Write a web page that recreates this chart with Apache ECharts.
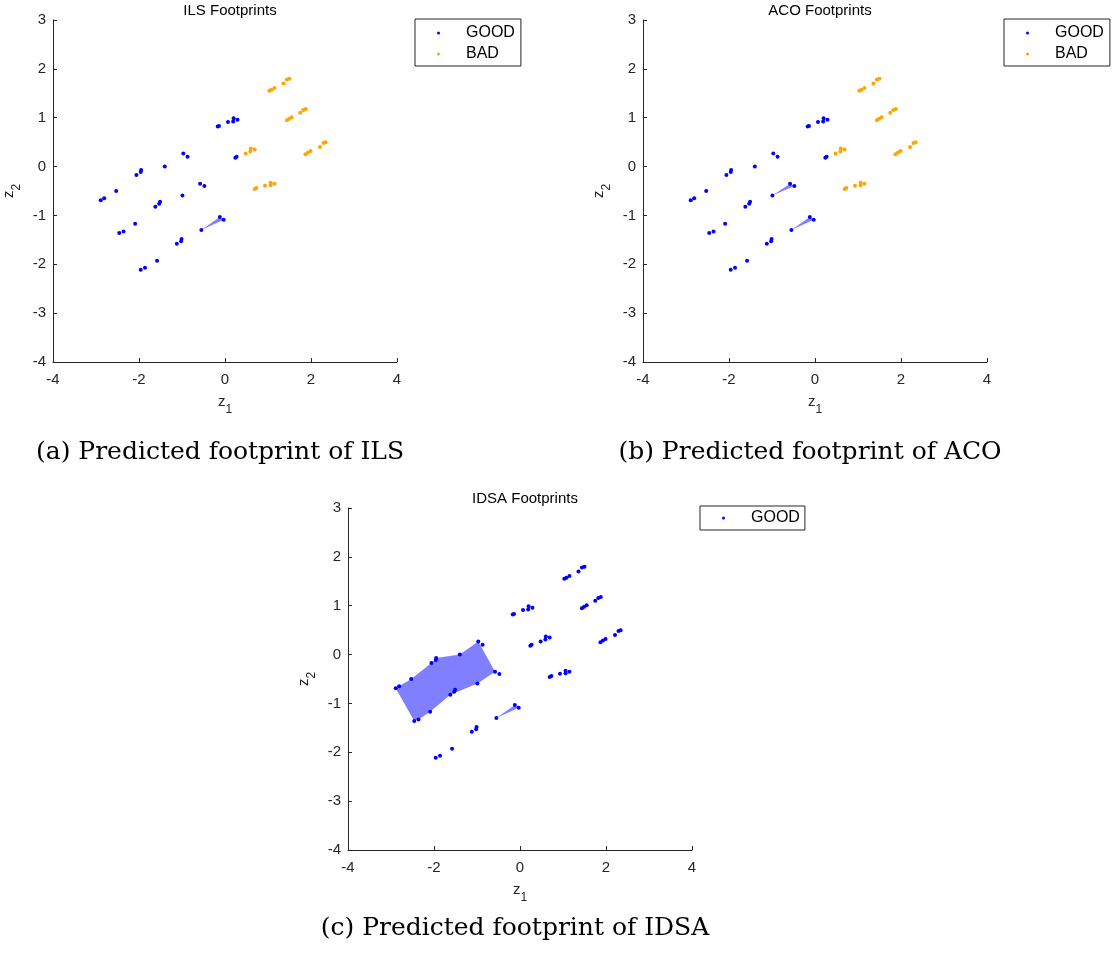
<!DOCTYPE html>
<html>
<head>
<meta charset="utf-8">
<script src="https://cdn.jsdelivr.net/npm/echarts@6/dist/echarts.min.js"></script>
<style>
  html, body { margin: 0; padding: 0; background: #fff; }
  #chart { width: 1113px; height: 958px; }
</style>
</head>
<body>
<div id="chart"></div>
<script>
  // instance points in the (z1, z2) space
  const goodPoints = [
    [-2.89, -0.69], [-2.81, -0.65], [-2.53, -0.50], [-2.06, -0.17], [-1.96, -0.11],
    [-1.95, -0.07], [-1.40, 0.00], [-0.97, 0.27], [-0.87, 0.20], [-0.17, 0.82],
    [-0.14, 0.83], [0.07, 0.91], [0.19, 0.92], [0.20, 0.99], [0.29, 0.96],
    [0.24, 0.18], [0.27, 0.20], [-0.58, -0.35], [-0.48, -0.40], [-0.99, -0.59],
    [-1.62, -0.82], [-1.53, -0.76], [-1.51, -0.72], [-2.09, -1.17], [-2.46, -1.36],
    [-2.36, -1.33], [-0.55, -1.30], [-0.12, -1.03], [-0.03, -1.09], [-1.12, -1.58],
    [-1.02, -1.53], [-1.01, -1.48], [-1.58, -1.93], [-1.96, -2.11], [-1.86, -2.07]
  ];
  const badPoints = [
    [1.03, 1.55], [1.08, 1.57], [1.15, 1.61], [1.36, 1.70], [1.44, 1.78], [1.50, 1.80],
    [1.44, 0.95], [1.49, 0.98], [1.55, 1.01], [1.75, 1.10], [1.82, 1.16], [1.88, 1.18],
    [0.48, 0.27], [0.59, 0.31], [0.60, 0.37], [0.69, 0.35],
    [0.69, -0.46], [0.73, -0.44], [0.93, -0.39], [1.06, -0.38], [1.06, -0.33], [1.15, -0.35],
    [1.87, 0.25], [1.93, 0.29], [1.99, 0.32], [2.21, 0.40], [2.29, 0.48], [2.34, 0.50]
  ];

  // footprint polygons
  const lowTriangle = [[-0.55, -1.30], [-0.12, -1.03], [-0.03, -1.09]];
  const midTriangle = [[-0.99, -0.59], [-0.58, -0.35], [-0.48, -0.40]];
  const idsaRegion = [
    [-2.89, -0.69], [-2.53, -0.50], [-2.06, -0.17], [-1.95, -0.07], [-1.40, 0.00],
    [-0.97, 0.27], [-0.58, -0.35], [-0.99, -0.59], [-1.62, -0.82], [-2.09, -1.17],
    [-2.36, -1.33], [-2.46, -1.36]
  ];

  const titles = ['ILS Footprints', 'ACO Footprints', 'IDSA Footprints'];
  const captions = ['(a) Predicted footprint of ILS', '(b) Predicted footprint of ACO', '(c) Predicted footprint of IDSA'];
  const xTicks = [-4, 4, 2];   // min, max, interval
  const yTicks = [-4, 3, 1];

  const panels = [
    { good: goodPoints, bad: badPoints, regions: [lowTriangle] },
    { good: goodPoints, bad: badPoints, regions: [lowTriangle, midTriangle] },
    { good: goodPoints.concat(badPoints), bad: null, regions: [idsaRegion, lowTriangle] }
  ];

  const grids = [
    { left: 53, top: 20, width: 344, height: 342 },
    { left: 643, top: 20, width: 344, height: 342 },
    { left: 348, top: 508, width: 344, height: 342 }
  ];

  const axisColor = '#262626';
  const sans = 'Liberation Sans, Arial, sans-serif';

  const nameRich = {
    z: { fontFamily: sans, fontSize: 15, color: axisColor, lineHeight: 22, verticalAlign: 'top' },
    s: { fontFamily: sans, fontSize: 12, color: axisColor, lineHeight: 22, verticalAlign: 'bottom' }
  };

  const axisCommon = {
    axisLine: { onZero: false, lineStyle: { color: axisColor, width: 1 } },
    axisTick: { inside: true, length: 4, lineStyle: { color: axisColor } },
    splitLine: { show: false },
    axisLabel: { fontFamily: sans, fontSize: 15, color: axisColor }
  };

  const chart = echarts.init(document.getElementById('chart'));

  const series = [];
  panels.forEach((p, i) => {
    series.push({
      type: 'custom',
      xAxisIndex: i,
      yAxisIndex: i,
      z: 1,
      silent: true,
      data: p.regions.map((r) => r[0]),
      renderItem: (params, api) => ({
        type: 'polygon',
        shape: { points: p.regions[params.dataIndex].map((pt) => api.coord(pt)) },
        style: { fill: 'rgba(0, 0, 255, 0.5)' }
      })
    });
    series.push({
      name: 'GOOD',
      type: 'scatter',
      xAxisIndex: i,
      yAxisIndex: i,
      z: 2,
      symbolSize: 4,
      itemStyle: { color: '#0000ff', opacity: 1 },
      data: p.good
    });
    if (p.bad) {
      series.push({
        name: 'BAD',
        type: 'scatter',
        xAxisIndex: i,
        yAxisIndex: i,
        z: 2,
        symbolSize: 4,
        itemStyle: { color: '#ffa500', opacity: 1 },
        data: p.bad
      });
    }
  });

  const legendCommon = {
    orient: 'vertical',
    icon: 'circle',
    itemWidth: 3,
    itemHeight: 3,
    itemGap: 5,
    borderColor: axisColor,
    borderWidth: 1,
    borderRadius: 0,
    backgroundColor: '#fff',
    selectedMode: false,
    itemStyle: { opacity: 1 },
    textStyle: { fontFamily: sans, fontSize: 16, color: '#000', lineHeight: 16, padding: [0, 0, 0, 21] }
  };

  const option = {
    animation: false,
    backgroundColor: '#fff',
    title: titles.map((t, i) => ({
      text: t,
      left: grids[i].left + grids[i].width / 2,
      top: grids[i].top - 22,
      textAlign: 'center',
      textStyle: { fontFamily: sans, fontSize: 15, fontWeight: 'normal', color: '#000' }
    })),
    legend: [
      Object.assign({}, legendCommon, { data: ['GOOD', 'BAD'], left: 415, top: 19, padding: [6, 6, 4, 22] }),
      Object.assign({}, legendCommon, { data: ['GOOD', 'BAD'], left: 1004, top: 19, padding: [6, 6, 4, 22] }),
      Object.assign({}, legendCommon, { data: ['GOOD'], left: 700, top: 506, padding: [4, 5, 4, 22] })
    ],
    grid: grids,
    xAxis: grids.map((g, i) => Object.assign({}, axisCommon, {
      gridIndex: i,
      type: 'value',
      min: xTicks[0],
      max: xTicks[1],
      interval: xTicks[2],
      name: '{z|z}{s|1}',
      nameLocation: 'middle',
      nameGap: 32,
      nameTextStyle: { rich: nameRich },
      axisLabel: Object.assign({}, axisCommon.axisLabel, { margin: 10 })
    })),
    yAxis: grids.map((g, i) => Object.assign({}, axisCommon, {
      gridIndex: i,
      type: 'value',
      min: yTicks[0],
      max: yTicks[1],
      interval: yTicks[2],
      name: '{z|z}{s|2}',
      nameLocation: 'middle',
      nameGap: 30,
      nameRotate: 90,
      nameTextStyle: { rich: nameRich },
      axisLabel: Object.assign({}, axisCommon.axisLabel, { margin: 7 })
    })),
    graphic: captions.map((c, i) => ({
      type: 'text',
      x: [220, 810, 515][i],
      y: [452, 452, 928][i],
      style: {
        text: c,
        font: '25px "DejaVu Serif", serif',
        fill: '#000',
        align: 'center',
        verticalAlign: 'middle'
      }
    })),
    series: series
  };

  chart.setOption(option);
</script>
</body>
</html>
